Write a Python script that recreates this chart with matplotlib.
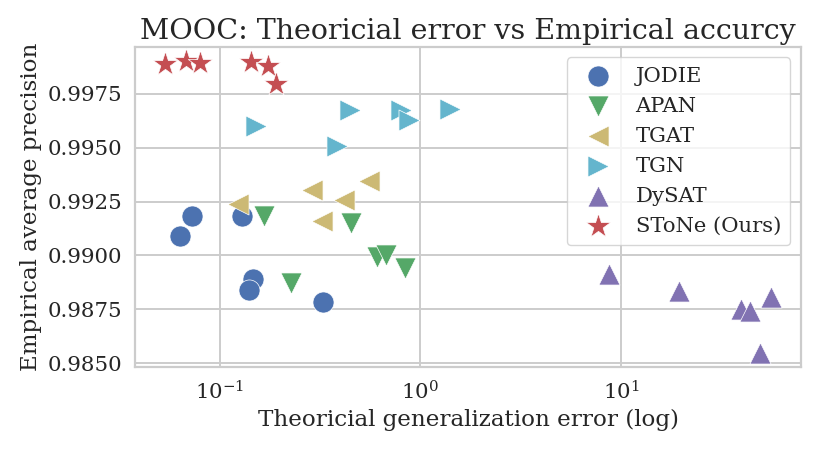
import numpy as np
import matplotlib
matplotlib.use("Agg")
import matplotlib.pyplot as plt
import seaborn as sns

# theoretical generalization error (x) and empirical average precision (y)
jodie_x = [0.0632, 0.0728, 0.1298, 0.1466, 0.140, 0.327]
jodie_y = [0.99090, 0.99184, 0.99181, 0.98890, 0.98841, 0.98786]
apan_x = [0.1658, 0.449, 0.226, 0.609, 0.673, 0.840]
apan_y = [0.99184, 0.99152, 0.98873, 0.98991, 0.99000, 0.98940]
tgat_x = [0.1233, 0.2866, 0.3215, 0.4155, 0.5553]
tgat_y = [0.99240, 0.99305, 0.99158, 0.99256, 0.99344]
tgn_x = [0.1524, 0.382, 0.4451, 0.7967, 0.879, 1.403]
tgn_y = [0.99603, 0.99507, 0.99674, 0.99677, 0.99631, 0.99682]
dysat_x = [8.74, 19.5, 39.4, 43.6, 55.6, 49.2]
dysat_y = [0.98914, 0.98833, 0.98752, 0.98740, 0.98805, 0.98549]
stone_x = [0.0536, 0.0677, 0.0795, 0.1439, 0.174, 0.1897]
stone_y = [0.99891, 0.99901, 0.99894, 0.99897, 0.99882, 0.99798]

models = ["JODIE", "APAN", "TGAT", "TGN", "DySAT", "SToNe (Ours)"]
xs = [jodie_x, apan_x, tgat_x, tgn_x, dysat_x, stone_x]
ys = [jodie_y, apan_y, tgat_y, tgn_y, dysat_y, stone_y]
markers = ["o", "v", "<", ">", "^", "*"]
colors = ["#4C72B0", "#55A868", "#CCB974", "#64B5CD", "#8172B2", "#C44E52"]

sns.set_theme(style="whitegrid")
plt.rcParams["font.family"] = ["DejaVu Serif"]
plt.rcParams["axes.edgecolor"] = "#cccccc"
plt.rcParams["axes.linewidth"] = 1.6
plt.rcParams["grid.linewidth"] = 1.4

fig, ax = plt.subplots(figsize=(8.14, 4.51), dpi=100)
for name, x, y, m, c in zip(models, xs, ys, markers, colors):
    ax.scatter(x, y, marker=m, s=340 if m == "*" else 230, color=c,
               edgecolor="white", linewidth=0.5, label=name)
ax.set_xscale("log")
ax.set_yticks([0.985, 0.9875, 0.99, 0.9925, 0.995, 0.9975])
ax.tick_params(labelsize=15.4)
ax.set_xlabel("Theoricial generalization error (log)", fontsize=16.6)
ax.set_ylabel("Empirical average precision", fontsize=16.6)
ax.set_title("MOOC: Theoricial error vs Empirical accurcy", fontsize=20.5)
ax.legend(loc="upper right", fontsize=15.2, labelspacing=0.52, borderpad=0.45)
fig.subplots_adjust(left=0.166, right=0.984, top=0.896, bottom=0.186)
fig.savefig("out.png", dpi=100)
